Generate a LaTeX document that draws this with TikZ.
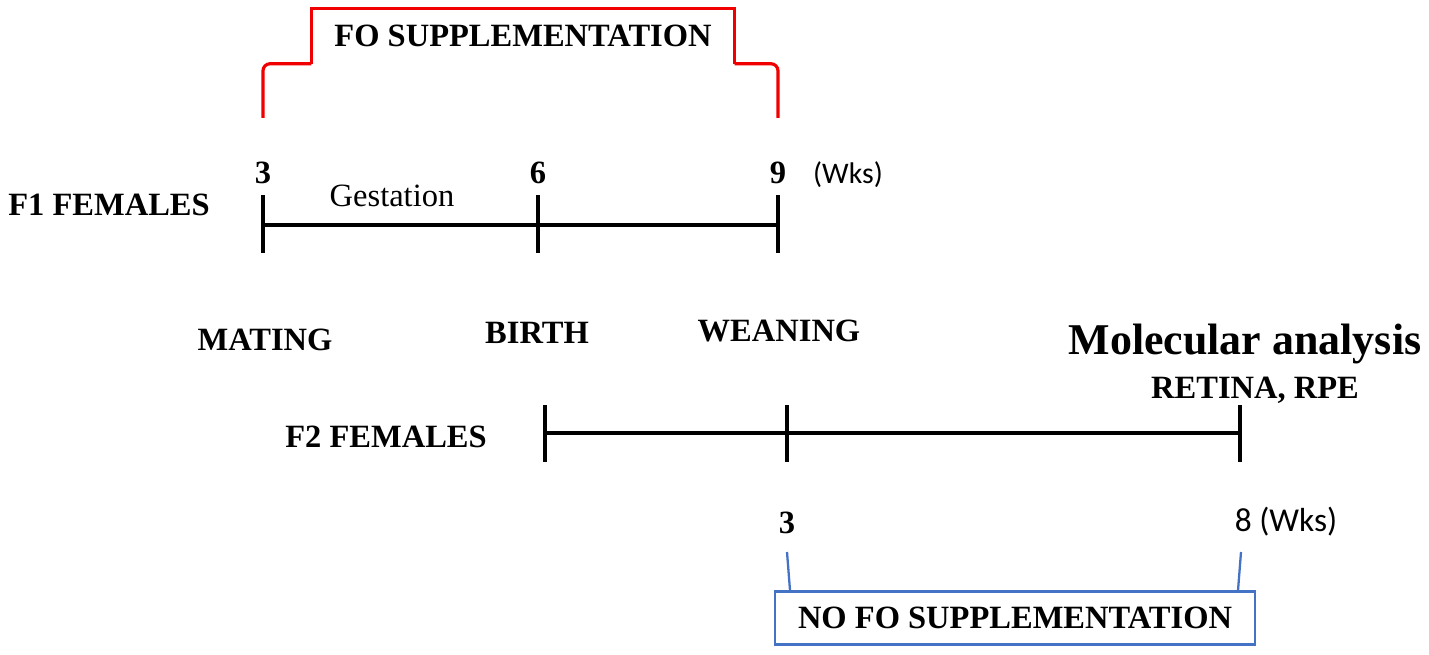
\documentclass[tikz,border=0pt]{standalone}
\usepackage{fontspec}
\setmainfont{Liberation Serif}
\newfontfamily\calibri{Carlito}
\usepackage{xcolor}
\usetikzlibrary{calc}
\definecolor{fored}{RGB}{240,0,0}
\definecolor{noblue}{RGB}{68,114,196}
\tikzset{
  lbl/.style={font=\fontsize{18.5}{22}\selectfont\bfseries, inner sep=0pt},
  txt/.style={font=\fontsize{18.5}{22}\selectfont, inner sep=0pt},
  wks/.style={font=\fontsize{19}{22}\selectfont\calibri, inner sep=0pt},
  redln/.style={fored, line width=1.8pt},
  blueln/.style={noblue, line width=1.3pt}
}

\begin{document}
\begin{tikzpicture}[x=0.02cm, y=-0.02cm, line width=2pt]
\useasboundingbox (0,0) rectangle (1429,655);

\coordinate (m1) at (263,225); \coordinate (b1) at (538,225); \coordinate (w1) at (778,225);	% F1 Zeitpunkte
\draw (m1) -- (w1);																% F1 Zeitachse
\foreach \c in {m1,b1,w1} \draw ($(\c)+(0,-30)$) -- ($(\c)+(0,28)$);			% F1 Striche

\node[lbl] (f1) at (109,205) {F1 FEMALES};
\node[lbl] (n3) at (263,173) {3};
\node[lbl] (n6) at (538,173) {6};
\node[lbl] (n9) at (778,173) {9};
\node[wks, font=\fontsize{17}{20}\selectfont\calibri] (wk1) at (848,175) {(Wks)};
\node[txt] (gest) at (392,196) {Gestation};

\node[lbl, minimum width=8.4cm, minimum height=1.04cm] (sup) at (523,36) {FO SUPPLEMENTATION};	% Kasten oben
\draw[redln] (263,118) [rounded corners=4pt] |- (sup.south west);			% Klammer links
\draw[redln] (sup.south west) -- (sup.north west) -- (sup.north east) -- (sup.south east);	% Kasten ohne Boden
\draw[redln] (sup.south east) [rounded corners=4pt] -| (778,118);			% Klammer rechts

\node[lbl] (mat) at (265,340) {MATING};
\node[lbl] (bir) at (537,333) {BIRTH};
\node[lbl] (wea) at (779,331) {WEANING};
\node[lbl, font=\fontsize{25}{28}\selectfont\bfseries] (mol) at (1245,344) {Molecular analysis};
\node[lbl] (ret) at (1255,390) {RETINA, RPE};

\coordinate (b2) at (545,433); \coordinate (w2) at (787,433); \coordinate (e2) at (1240,433);	% F2 Zeitpunkte
\draw (b2) -- (e2);																% F2 Zeitachse
\foreach \c in {b2,w2,e2} \draw ($(\c)+(0,-28)$) -- ($(\c)+(0,29)$);			% F2 Striche

\node[lbl] (f2) at (386,437) {F2 FEMALES};
\node[lbl] (m3) at (787,523) {3};
\node[wks] (m8) at (1286,522) {8 (Wks)};

\node[lbl, draw=noblue, line width=1.3pt, minimum width=9.6cm, minimum height=1.06cm] (nosup) at (1015,618) {NO FO SUPPLEMENTATION};	% Kasten unten
\draw[blueln] (787,552) -- (790,0 |- nosup.north);								% Klammer links
\draw[blueln] (1241,552) -- (1238,0 |- nosup.north);							% Klammer rechts

\end{tikzpicture}
\end{document}
